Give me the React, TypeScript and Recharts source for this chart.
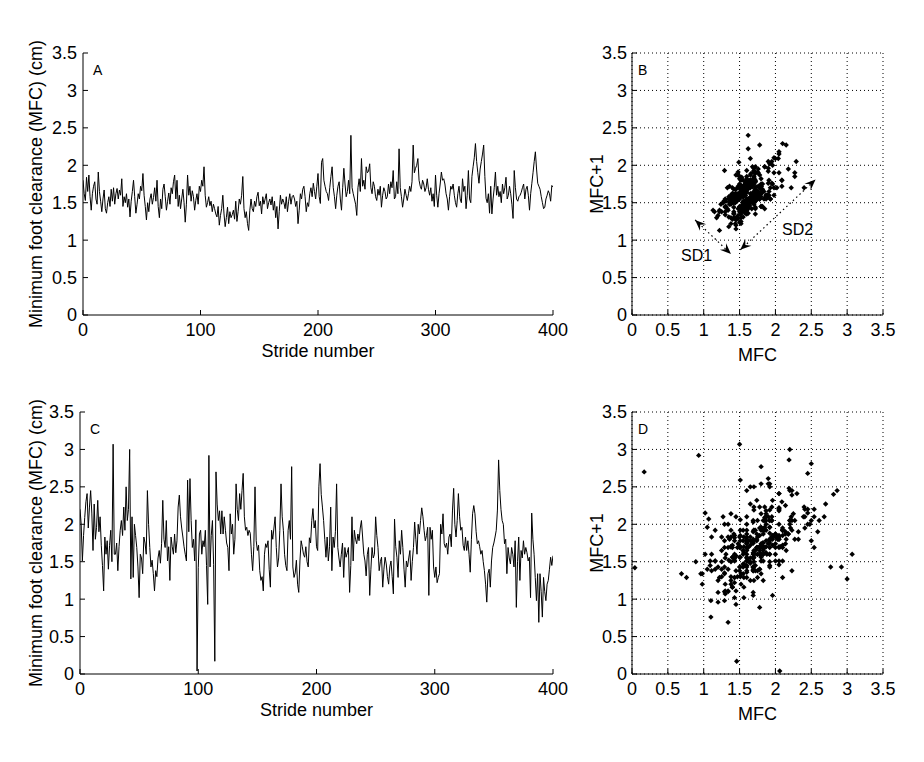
import {
  LineChart,
  Line,
  ScatterChart,
  Scatter,
  XAxis,
  YAxis,
  CartesianGrid,
  ReferenceLine,
  ReferenceDot
} from 'recharts'

// stride-by-stride minimum foot clearance (cm)
const mfcA = [
  1.80, 1.62, 1.53, 1.84, 1.65, 1.87, 1.58, 1.40, 1.62, 1.72,
  1.78, 1.55, 1.48, 1.91, 1.65, 1.52, 1.38, 1.55, 1.67, 1.42,
  1.36, 1.50, 1.58, 1.45, 1.68, 1.52, 1.70, 1.48, 1.62, 1.69,
  1.55, 1.67, 1.60, 1.82, 1.45, 1.58, 1.50, 1.62, 1.44, 1.55,
  1.31, 1.52, 1.65, 1.80, 1.58, 1.36, 1.48, 1.62, 1.55, 1.72,
  1.66, 1.89, 1.60, 1.45, 1.27, 1.50, 1.38, 1.55, 1.62, 1.48,
  1.57, 1.70, 1.52, 1.80, 1.45, 1.30, 1.55, 1.42, 1.68, 1.75,
  1.58, 1.40, 1.52, 1.63, 1.48, 1.70, 1.62, 1.78, 1.87, 1.55,
  1.80, 1.45, 1.60, 1.42, 1.55, 1.68, 1.50, 1.24, 1.48, 1.87,
  1.60, 1.72, 1.52, 1.66, 1.58, 1.40, 1.53, 1.62, 1.48, 1.72,
  1.65, 1.80, 1.72, 1.98, 1.60, 1.44, 1.50, 1.58, 1.46, 1.52,
  1.38, 1.48, 1.42, 1.35, 1.31, 1.45, 1.20, 1.33, 1.42, 1.60,
  1.35, 1.18, 1.30, 1.44, 1.22, 1.38, 1.30, 1.34, 1.40, 1.28,
  1.52, 1.25, 1.38, 1.55, 1.48, 1.60, 1.85, 1.42, 1.30, 1.38,
  1.22, 1.13, 1.40, 1.55, 1.42, 1.38, 1.52, 1.45, 1.58, 1.64,
  1.46, 1.52, 1.35, 1.58, 1.48, 1.55, 1.62, 1.42, 1.50, 1.55,
  1.47, 1.58, 1.40, 1.52, 1.30, 1.45, 1.15, 1.38, 1.60, 1.48,
  1.55, 1.50, 1.42, 1.58, 1.38, 1.52, 1.62, 1.48, 1.58, 1.60,
  1.55, 1.45, 1.52, 1.22, 1.40, 1.62, 1.55, 1.68, 1.72, 1.58,
  1.38, 1.50, 1.45, 1.62, 1.70, 1.58, 1.76, 1.65, 1.55, 1.72,
  1.89, 1.58, 1.49, 2.04, 2.09, 1.80, 1.72, 1.65, 1.62, 1.53,
  1.70, 1.85, 1.98, 1.70, 1.58, 1.42, 1.60, 1.72, 1.78, 1.55,
  1.40, 1.70, 1.96, 1.75, 1.58, 1.65, 1.80, 1.62, 2.40, 1.70,
  1.62, 1.55, 1.48, 1.33, 1.70, 1.82, 1.65, 2.09, 1.72, 1.80,
  1.68, 1.98, 1.90, 1.92, 2.02, 1.70, 1.62, 1.78, 1.72, 1.58,
  1.53, 1.68, 1.60, 1.72, 1.44, 1.60, 1.70, 1.65, 1.55, 1.58,
  1.75, 1.62, 1.78, 1.70, 1.93, 1.55, 1.58, 1.78, 1.62, 2.22,
  1.70, 1.58, 1.44, 1.55, 1.68, 1.60, 1.53, 1.62, 1.72, 1.65,
  1.78, 2.27, 1.90, 1.96, 2.00, 2.09, 1.80, 1.72, 1.68, 1.80,
  1.75, 1.65, 1.70, 1.82, 1.68, 1.60, 1.70, 1.52, 1.62, 1.45,
  1.87, 1.60, 1.44, 1.62, 1.75, 1.91, 1.80, 1.82, 1.75, 1.62,
  1.55, 1.40, 1.58, 1.72, 1.68, 1.75, 1.60, 1.50, 1.44, 1.62,
  1.72, 1.55, 1.50, 1.82, 1.65, 1.72, 1.42, 1.60, 1.93, 1.55,
  1.50, 1.85, 1.98, 2.10, 2.29, 2.05, 1.90, 1.76, 1.95, 2.05,
  2.15, 2.27, 1.85, 1.56, 1.50, 1.62, 1.36, 1.72, 1.35, 1.55,
  1.70, 1.91, 1.60, 1.72, 1.58, 1.65, 1.50, 1.75, 1.62, 1.70,
  1.84, 1.55, 1.60, 1.72, 1.62, 1.48, 1.29, 1.93, 1.70, 1.55,
  1.52, 1.58, 1.60, 1.64, 1.70, 1.75, 1.55, 1.68, 1.72, 1.60,
  1.40, 1.62, 1.76, 1.90, 2.05, 2.18, 1.95, 1.76, 1.72, 1.68,
  1.58, 1.50, 1.42, 1.44, 1.55, 1.60, 1.66, 1.62, 1.52, 1.73,
  1.71
]

const mfcC = [
  2.20, 2.00, 1.51, 1.85, 2.09, 2.30, 2.41, 1.95, 2.23, 2.45,
  2.15, 1.65, 2.27, 1.80, 1.96, 2.32, 1.90, 2.10, 1.72, 1.45,
  1.11, 1.83, 1.60, 1.78, 1.40, 1.72, 1.92, 1.50, 3.07, 1.60,
  1.60, 1.75, 1.38, 1.70, 1.92, 2.05, 1.85, 2.23, 1.92, 2.50,
  2.05, 2.20, 3.00, 1.27, 2.10, 1.29, 2.00, 1.85, 1.69, 1.43,
  1.02, 1.60, 1.55, 1.34, 1.83, 1.75, 1.60, 2.45, 2.00, 1.69,
  1.43, 1.52, 1.34, 1.11, 1.38, 1.30, 1.55, 1.65, 1.48, 1.74,
  2.32, 1.80, 1.69, 2.05, 1.51, 1.70, 1.25, 1.83, 1.70, 1.60,
  1.87, 1.62, 1.78, 2.23, 2.39, 2.10, 1.95, 1.83, 1.70, 1.60,
  1.51, 2.59, 1.90, 2.61, 2.05, 1.69, 1.80, 1.51, 2.06, 0.04,
  1.42, 1.87, 1.92, 1.60, 1.78, 1.70, 1.92, 1.45, 0.93, 2.92,
  1.43, 1.85, 2.05, 1.46, 0.17, 2.70, 2.27, 2.05, 2.18, 1.87,
  2.18, 1.87, 2.10, 1.92, 1.75, 1.69, 1.38, 2.14, 1.87, 2.00,
  1.60, 1.80, 2.54, 2.20, 2.05, 2.41, 2.20, 2.45, 2.68, 2.10,
  1.92, 1.96, 1.85, 1.92, 1.88, 1.60, 1.38, 1.70, 2.50, 1.78,
  1.65, 1.72, 1.38, 1.25, 1.30, 1.11, 1.60, 1.74, 1.69, 1.78,
  1.40, 1.16, 1.92, 1.80, 1.95, 2.10, 1.69, 1.43, 1.55, 1.92,
  2.54, 2.10, 1.92, 1.60, 1.45, 1.38, 1.92, 2.05, 1.80, 2.77,
  1.43, 1.29, 1.35, 1.52, 1.20, 1.09, 1.51, 1.78, 1.70, 1.60,
  1.56, 1.70, 1.50, 1.43, 1.82, 1.75, 2.05, 2.21, 1.95, 2.05,
  1.70, 1.65, 2.50, 2.81, 2.40, 2.23, 2.05, 1.80, 1.56, 1.83,
  1.51, 1.70, 2.23, 1.38, 1.83, 1.69, 1.90, 2.54, 1.69, 1.55,
  1.43, 1.60, 1.75, 1.29, 1.69, 1.56, 1.62, 1.69, 1.09, 1.45,
  2.10, 1.51, 1.92, 1.80, 1.74, 1.87, 1.78, 1.95, 2.05, 1.83,
  1.60, 1.51, 1.31, 1.60, 1.69, 1.05, 1.40, 1.69, 1.55, 1.60,
  2.10, 1.85, 1.69, 1.38, 1.50, 1.56, 1.16, 1.40, 1.56, 1.47,
  1.30, 1.20, 1.43, 1.51, 1.30, 1.07, 2.07, 1.70, 1.56, 1.29,
  1.78, 1.60, 1.92, 1.69, 1.40, 1.16, 1.51, 1.43, 1.55, 1.65,
  1.25, 1.50, 1.69, 2.03, 1.80, 1.60, 2.00, 1.87, 2.05, 2.22,
  2.10, 1.92, 1.78, 1.85, 1.96, 1.05, 1.96, 1.80, 1.92, 1.43,
  1.29, 1.43, 1.22, 1.29, 1.34, 2.00, 1.87, 2.14, 1.74, 1.69,
  1.75, 1.60, 1.83, 1.87, 1.70, 2.19, 2.48, 2.00, 1.83, 2.05,
  2.41, 2.10, 1.92, 1.96, 1.72, 1.65, 1.83, 1.65, 1.78, 1.60,
  1.36, 1.80, 2.14, 2.25, 2.14, 1.90, 1.74, 1.78, 1.70, 1.60,
  1.65, 1.50, 1.38, 1.20, 0.96, 1.34, 1.40, 1.16, 1.51, 1.69,
  1.75, 1.83, 1.92, 2.19, 2.86, 2.45, 2.20, 2.05, 2.00, 1.74,
  1.80, 1.34, 1.69, 1.55, 1.47, 1.69, 1.60, 1.43, 1.78, 0.89,
  1.50, 1.83, 1.25, 1.65, 1.55, 1.78, 1.60, 1.69, 1.62, 1.51,
  1.56, 1.02, 2.15, 1.80, 1.60, 1.29, 0.98, 1.34, 0.69, 1.34,
  1.10, 0.76, 1.29, 1.10, 0.98, 1.20, 1.25, 1.40, 1.56, 1.45,
  1.58
]

const strideTicks = [0, 100, 200, 300, 400]
const mfcTicks = [0, 0.5, 1, 1.5, 2, 2.5, 3, 3.5]

// SD1 / SD2 annotation in panel B (data units)
const sd1Segment = [{ x: 0.88, y: 1.27 }, { x: 1.38, y: 0.815 }]
const sd2Segment = [{ x: 1.51, y: 0.87 }, { x: 2.56, y: 1.81 }]
const sdLabels = [
  { text: 'SD1', x: 0.9, y: 0.8 },
  { text: 'SD2', x: 2.31, y: 1.15 }
]

const FONT = '"Liberation Sans", Arial, Helvetica, sans-serif'
const tickStyle = { fill: '#000', fontSize: 18, fontFamily: FONT }
const axisLine = { stroke: '#000' }

const toSeries = (vals: number[]) => vals.map((v, i) => ({ stride: i, mfc: v }))
// lag plot: MFC(n) against MFC(n+1)
const toPoincare = (vals: number[]) =>
  vals.slice(0, -1).map((v, i) => ({ x: v, y: vals[i + 1] }))

const blank = () => ''

function Diamond(props: any) {
  const { cx, cy } = props
  const s = 2.7
  return (
    <polygon
      points={`${cx},${cy - s} ${cx + s},${cy} ${cx},${cy + s} ${cx - s},${cy}`}
      fill="#000"
    />
  )
}

function DoubleArrow(props: any) {
  const { x1, y1, x2, y2 } = props
  const dx = x2 - x1
  const dy = y2 - y1
  const len = Math.hypot(dx, dy) || 1
  const ux = dx / len
  const uy = dy / len
  const head = (px: number, py: number, dir: number) => {
    const bx = px - dir * ux * 11
    const by = py - dir * uy * 11
    const nx = -uy * 4.5
    const ny = ux * 4.5
    const mx = px - dir * ux * 7
    const my = py - dir * uy * 7
    return `${px},${py} ${bx + nx},${by + ny} ${mx},${my} ${bx - nx},${by - ny}`
  }
  return (
    <g>
      <line x1={x1} y1={y1} x2={x2} y2={y2} stroke="#000" strokeWidth={1.2} strokeDasharray="1.5 3" />
      <polygon points={head(x1, y1, -1)} fill="#000" />
      <polygon points={head(x2, y2, 1)} fill="#000" />
    </g>
  )
}

const letterStyle = (left: number) => ({
  position: 'absolute' as const,
  left,
  top: 63,
  fontFamily: FONT,
  fontSize: 14,
  lineHeight: '14px',
  color: '#000'
})

function TimePanel({ values, top, plotLeft, letter }: { values: number[]; top: number; plotLeft: number; letter: string }) {
  return (
    <div style={{ position: 'absolute', left: 0, top, width: 580, height: 380 }}>
      <LineChart width={580} height={380} data={toSeries(values)} margin={{ top: 53, right: 27, bottom: 15, left: 0 }}>
        <XAxis
          dataKey="stride"
          type="number"
          domain={[0, 400]}
          ticks={strideTicks}
          interval={0}
          allowDataOverflow
          height={50}
          tickSize={-5}
          tickMargin={13}
          tick={tickStyle}
          axisLine={axisLine}
          tickLine={axisLine}
          label={{ value: 'Stride number', position: 'insideBottom', offset: 8, fill: '#000', fontSize: 18, fontFamily: FONT }}
        />
        <XAxis
          xAxisId="top"
          orientation="top"
          type="number"
          domain={[0, 400]}
          ticks={strideTicks}
          interval={0}
          allowDataOverflow
          height={0}
          tickSize={-5}
          tickFormatter={blank}
          axisLine={axisLine}
          tickLine={axisLine}
        />
        <YAxis
          type="number"
          domain={[0, 3.5]}
          ticks={mfcTicks}
          interval={0}
          allowDataOverflow
          width={plotLeft}
          tickSize={-5}
          tickMargin={11}
          tick={tickStyle}
          axisLine={axisLine}
          tickLine={axisLine}
          label={{
            value: 'Minimum foot clearance (MFC) (cm)',
            angle: -90,
            position: 'insideLeft',
            offset: 36,
            fill: '#000',
            fontSize: 18,
            fontFamily: FONT,
            style: { textAnchor: 'middle' }
          }}
        />
        <YAxis
          yAxisId="right"
          orientation="right"
          type="number"
          domain={[0, 3.5]}
          ticks={mfcTicks}
          interval={0}
          allowDataOverflow
          width={0}
          tickSize={-5}
          tickFormatter={blank}
          axisLine={axisLine}
          tickLine={axisLine}
        />
        <Line type="linear" dataKey="mfc" stroke="#000" strokeWidth={1} dot={false} isAnimationActive={false} />
      </LineChart>
      <div style={letterStyle(plotLeft + 10)}>{letter}</div>
    </div>
  )
}

function PoincarePanel({ values, top, letter, annotate }: { values: number[]; top: number; letter: string; annotate?: boolean }) {
  return (
    <div style={{ position: 'absolute', left: 560, top, width: 364, height: 380 }}>
      <ScatterChart width={364} height={380} margin={{ top: 53, right: 41, bottom: 15, left: 0 }}>
        <CartesianGrid stroke="#000" strokeDasharray="1 3" />
        <XAxis
          dataKey="x"
          type="number"
          domain={[0, 3.5]}
          ticks={mfcTicks}
          interval={0}
          allowDataOverflow
          height={50}
          tickSize={-5}
          tickMargin={13}
          tick={tickStyle}
          axisLine={axisLine}
          tickLine={axisLine}
          label={{ value: 'MFC', position: 'insideBottom', offset: 4, fill: '#000', fontSize: 18, fontFamily: FONT }}
        />
        <XAxis
          xAxisId="top"
          orientation="top"
          type="number"
          domain={[0, 3.5]}
          ticks={mfcTicks}
          interval={0}
          allowDataOverflow
          height={0}
          tickSize={-5}
          tickFormatter={blank}
          axisLine={axisLine}
          tickLine={axisLine}
        />
        <YAxis
          dataKey="y"
          type="number"
          domain={[0, 3.5]}
          ticks={mfcTicks}
          interval={0}
          allowDataOverflow
          width={72}
          tickSize={-5}
          tickMargin={10}
          tick={tickStyle}
          axisLine={axisLine}
          tickLine={axisLine}
          label={{
            value: 'MFC+1',
            angle: -90,
            position: 'insideLeft',
            offset: 37,
            fill: '#000',
            fontSize: 18,
            fontFamily: FONT,
            style: { textAnchor: 'middle' }
          }}
        />
        <YAxis
          yAxisId="right"
          orientation="right"
          type="number"
          domain={[0, 3.5]}
          ticks={mfcTicks}
          interval={0}
          allowDataOverflow
          width={0}
          tickSize={-5}
          tickFormatter={blank}
          axisLine={axisLine}
          tickLine={axisLine}
        />
        <Scatter data={toPoincare(values)} shape={Diamond} isAnimationActive={false} />
        {annotate && <ReferenceLine segment={sd1Segment} shape={DoubleArrow} />}
        {annotate && <ReferenceLine segment={sd2Segment} shape={DoubleArrow} />}
        {annotate &&
          sdLabels.map((l) => (
            <ReferenceDot
              key={l.text}
              x={l.x}
              y={l.y}
              r={0}
              fill="none"
              stroke="none"
              label={{ value: l.text, position: 'center', fill: '#000', fontSize: 16, fontFamily: FONT }}
            />
          ))}
      </ScatterChart>
      <div style={letterStyle(78)}>{letter}</div>
    </div>
  )
}

export default function App() {
  return (
    <div style={{ position: 'absolute', left: 0, top: 0, width: 924, height: 762, background: '#fff', fontFamily: FONT }}>
      <TimePanel values={mfcA} top={0} plotLeft={83} letter="A" />
      <PoincarePanel values={mfcA} top={0} letter="B" annotate />
      <TimePanel values={mfcC} top={359} plotLeft={80} letter="C" />
      <PoincarePanel values={mfcC} top={359} letter="D" />
    </div>
  )
}
